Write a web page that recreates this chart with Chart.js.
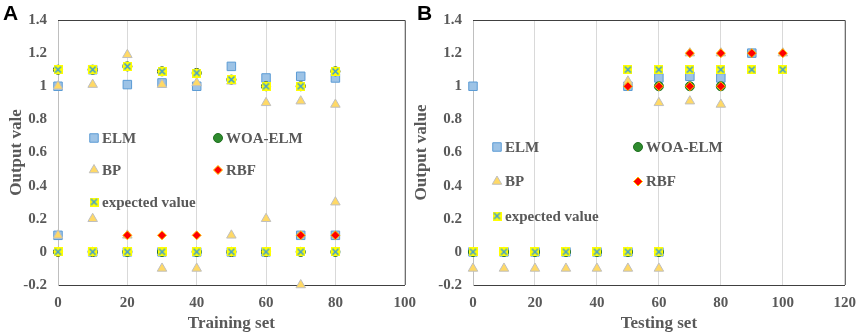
<!DOCTYPE html>
<html>
<head>
<meta charset="utf-8">
<script src="https://cdn.jsdelivr.net/npm/chart.js@4.4.0/dist/chart.umd.min.js"></script>
<style>
  body { margin: 0; background: #fff; width: 865px; height: 336px; position: relative; overflow: hidden; }
  canvas { position: absolute; top: 0; }
  #chartA { left: 0; }
  #chartB { left: 410px; }
  .tag { position: absolute; top: 3px; font: bold 21px/20px "Liberation Sans", Arial, sans-serif; color: #000; }
</style>
</head>
<body>
<canvas id="chartA" width="425" height="336"></canvas>
<canvas id="chartB" width="455" height="336"></canvas>
<div class="tag" style="left:3px">A</div>
<div class="tag" style="left:417px">B</div>
<script>
// [x, output] pairs
var trainElm = [[0,1.0],[0,0.1],[10,1.1],[10,0],[20,1.01],[20,0],[30,1.02],[30,0],[40,1.0],[40,0],
  [50,1.12],[50,0],[60,1.05],[60,0],[70,1.06],[70,0.1],[80,1.05],[80,0.1]];
var trainWoa = [[0,1.1],[0,0],[10,1.1],[10,0],[20,1.12],[20,0],[30,1.09],[30,0],[40,1.08],[40,0],
  [50,1.04],[50,0],[60,1.0],[60,0],[70,1.0],[70,0],[80,1.09],[80,0]];
var trainBp = [[0,1.0],[0,0.1],[10,1.01],[10,0.2],[20,1.19],[20,0.1],[30,1.01],[30,-0.1],[40,1.02],[40,-0.1],
  [50,1.03],[50,0.1],[60,0.9],[60,0.2],[70,0.91],[70,-0.2],[80,0.89],[80,0.3]];
var trainRbf = [[0,1.1],[0,0],[10,1.1],[10,0],[20,1.12],[20,0.1],[30,1.09],[30,0.1],[40,1.08],[40,0.1],
  [50,1.04],[50,0],[60,1.0],[60,0],[70,1.0],[70,0.1],[80,1.09],[80,0.1]];
var trainExpected = [[0,1.1],[0,0],[10,1.1],[10,0],[20,1.12],[20,0],[30,1.09],[30,0],[40,1.08],[40,0],
  [50,1.04],[50,0],[60,1.0],[60,0],[70,1.0],[70,0],[80,1.09],[80,0]];

var testElm = [[0,1.0],[0,0],[10,0],[20,0],[30,0],[40,0],[50,0],[50,1.0],[60,0],[60,1.05],
  [70,1.06],[80,1.05],[90,1.2]];
var testWoa = [[0,0],[10,0],[20,0],[30,0],[40,0],[50,0],[60,0],[60,1.0],[70,1.0],[80,1.0]];
var testBp = [[0,-0.1],[10,-0.1],[20,-0.1],[30,-0.1],[40,-0.1],[50,-0.1],[60,-0.1],
  [50,1.03],[60,0.9],[70,0.91],[70,1.2],[80,0.89],[80,1.2],[100,1.2]];
var testRbf = [[50,1.0],[60,1.0],[70,1.0],[70,1.2],[80,1.0],[80,1.2],[90,1.2],[100,1.2]];
var testExpected = [[0,0],[10,0],[20,0],[30,0],[40,0],[50,0],[60,0],
  [50,1.1],[60,1.1],[70,1.1],[80,1.1],[90,1.1],[100,1.1]];

var seriesNames = ['ELM', 'WOA-ELM', 'BP', 'RBF', 'expected value'];
var yMin = -0.2, yMax = 1.4, yStep = 0.2;

var grey = '#595959';
var serif = '"Liberation Serif", "Times New Roman", serif';

// yellow square with a blue cross
var crossBox = document.createElement('canvas');
crossBox.width = 9; crossBox.height = 9;
(function() {
  var c = crossBox.getContext('2d');
  c.fillStyle = '#ffff00';
  c.fillRect(0, 0, 9, 9);
  c.strokeStyle = '#3a9ad9';
  c.lineWidth = 1.5;
  c.beginPath();
  c.moveTo(1.5, 1.5); c.lineTo(7.5, 7.5);
  c.moveTo(7.5, 1.5); c.lineTo(1.5, 7.5);
  c.stroke();
})();

var styles = [
  { pointStyle: 'rect', radius: 6, backgroundColor: '#9dc3e6', borderColor: '#5b9bd5', borderWidth: 1, order: 5 },
  { pointStyle: 'circle', radius: 4.5, backgroundColor: '#2e8b2e', borderColor: '#1f6f1f', borderWidth: 1, order: 4 },
  { pointStyle: 'triangle', radius: 5.5, backgroundColor: '#ffd966', borderColor: '#bfbfbf', borderWidth: 1, order: 3 },
  { pointStyle: 'rectRot', radius: 4.5, backgroundColor: '#ff0000', borderColor: '#ffc000', borderWidth: 1, order: 2 },
  { pointStyle: crossBox, radius: 5, backgroundColor: '#ffff00', borderColor: '#3a9ad9', borderWidth: 1, order: 1 }
];

function toPoints(pairs) {
  return pairs.map(function(p) { return { x: p[0], y: p[1] }; });
}

var frame = {
  id: 'frame',
  afterDraw: function(chart) {
    var a = chart.chartArea, ctx = chart.ctx;
    ctx.save();
    ctx.strokeStyle = '#404040';
    ctx.lineWidth = 1;
    ctx.beginPath();
    ctx.moveTo(a.left, a.top + 0.5);
    ctx.lineTo(a.right + 0.5, a.top + 0.5);
    ctx.lineTo(a.right + 0.5, a.bottom);
    ctx.stroke();
    ctx.restore();
  }
};

var insideLegend = {
  id: 'insideLegend',
  afterDraw: function(chart, args, opts) {
    var ctx = chart.ctx;
    ctx.save();
    ctx.font = 'bold 15px ' + serif;
    ctx.textBaseline = 'middle';
    ctx.fillStyle = grey;
    chart.data.datasets.forEach(function(ds, i) {
      var x = opts.x + (i % 2) * opts.colGap;
      var y = opts.y + Math.floor(i / 2) * opts.rowGap;
      ctx.save();
      ctx.fillStyle = ds.backgroundColor;
      ctx.strokeStyle = ds.borderColor;
      ctx.lineWidth = ds.borderWidth;
      Chart.helpers.drawPoint(ctx, { pointStyle: ds.pointStyle, radius: ds.pointRadius, rotation: 0, borderWidth: ds.borderWidth }, x, y);
      ctx.restore();
      ctx.fillText(ds.label, x + opts.textGap, y + 1);
    });
    ctx.restore();
  }
};

function makeChart(id, sets, xMax, xTitle, yTitle, yWidth, padRight, yTitlePad, legend) {
  var datasets = sets.map(function(pairs, i) {
    var s = styles[i];
    return {
      label: seriesNames[i],
      data: toPoints(pairs),
      pointStyle: s.pointStyle,
      pointRadius: s.radius,
      backgroundColor: s.backgroundColor,
      borderColor: s.borderColor,
      borderWidth: s.borderWidth,
      order: s.order,
      clip: false
    };
  });
  return new Chart(document.getElementById(id), {
    type: 'scatter',
    data: { datasets: datasets },
    options: {
      responsive: false,
      animation: false,
      events: [],
      layout: { padding: { top: 16, right: padRight, left: 0, bottom: 0 } },
      plugins: {
        legend: { display: false },
        tooltip: { enabled: false },
        insideLegend: legend
      },
      scales: {
        x: {
          type: 'linear', min: 0, max: xMax,
          ticks: { stepSize: 20, padding: 9, color: grey, font: { family: serif, size: 15, weight: 'bold' } },
          grid: {
            drawTicks: false,
            color: function(c) { return (c.tick && c.tick.value > 0 && c.tick.value < xMax) ? '#d9d9d9' : 'rgba(0,0,0,0)'; }
          },
          border: { color: '#404040' },
          title: { display: true, text: xTitle, color: grey, padding: { top: 2, bottom: 2 }, font: { family: serif, size: 17, weight: 'bold' } },
          afterFit: function(scale) { scale.height = 51; }
        },
        y: {
          min: yMin, max: yMax,
          ticks: {
            stepSize: yStep, padding: 11, color: grey, font: { family: serif, size: 15, weight: 'bold' },
            callback: function(v) { return String(Number(v.toFixed(1)) || 0); }
          },
          grid: { display: false, drawTicks: false },
          border: { color: '#bfbfbf' },
          title: { display: true, text: yTitle, color: grey, padding: { top: yTitlePad, bottom: yTitlePad }, font: { family: serif, size: 17, weight: 'bold' } },
          afterFit: function(scale) { scale.width = yWidth; }
        }
      }
    },
    plugins: [frame, insideLegend]
  });
}

makeChart('chartA', [trainElm, trainWoa, trainBp, trainRbf, trainExpected], 100,
  'Training set', 'Output vale', 58, 18, 6, { x: 94, y: 138, colGap: 124, rowGap: 32, textGap: 8 });
makeChart('chartB', [testElm, testWoa, testBp, testRbf, testExpected], 120,
  'Testing set', 'Output value', 63, 12, 1, { x: 87, y: 147, colGap: 141, rowGap: 34.5, textGap: 8 });
</script>
</body>
</html>
